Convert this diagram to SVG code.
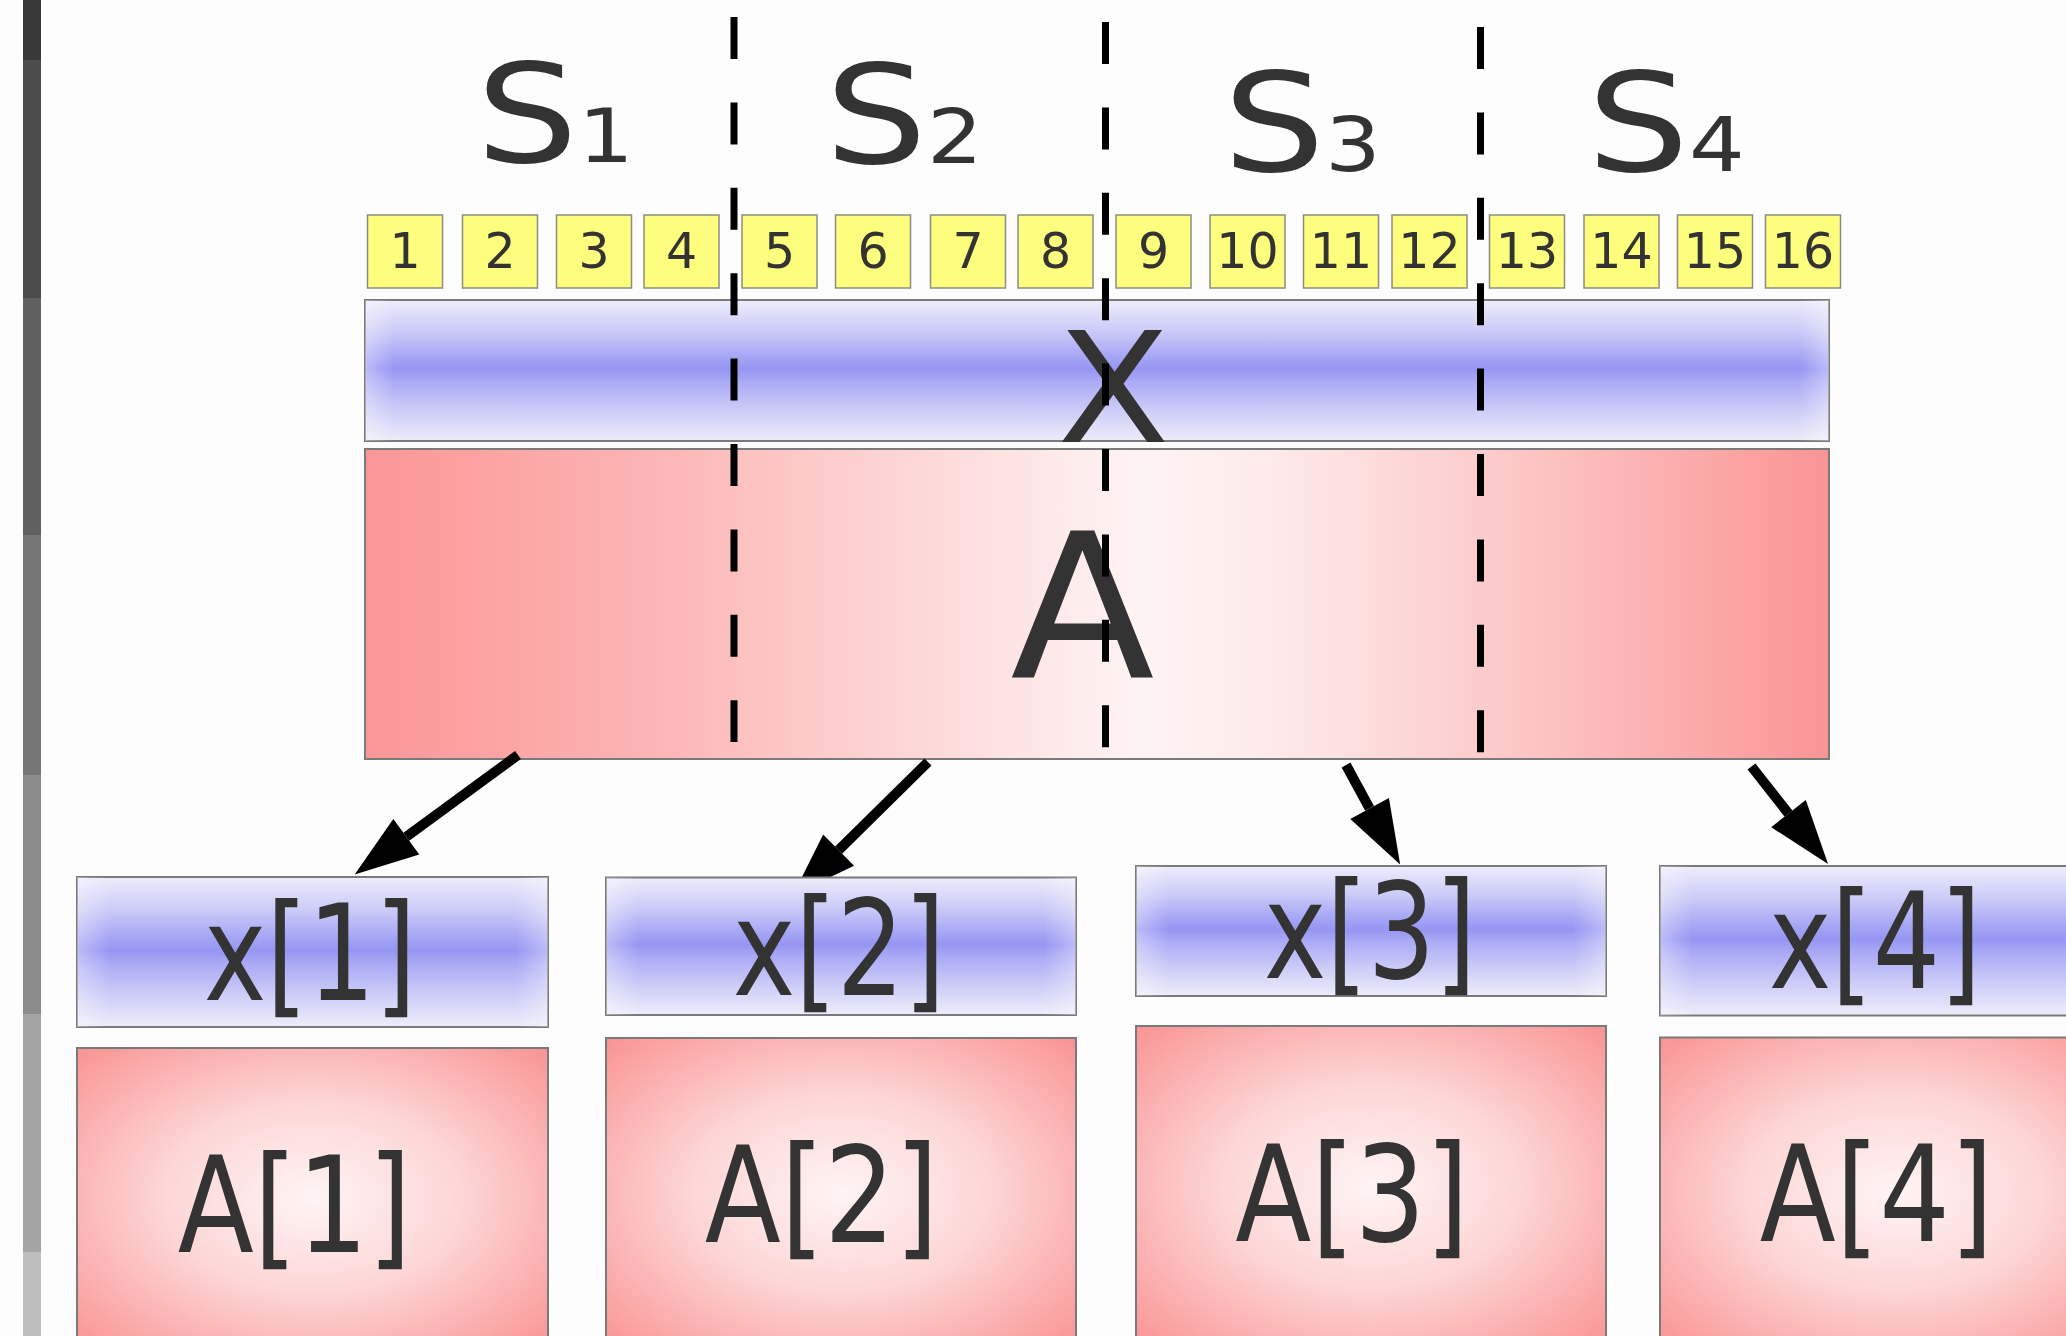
<svg xmlns="http://www.w3.org/2000/svg" width="2066" height="1336" viewBox="0 0 2066 1336">
  <defs>
    <!-- blue vector band: light edges, saturated middle stripe -->
    <linearGradient id="blueBand" x1="0" y1="0" x2="0" y2="1">
      <stop offset="0" stop-color="#ededfc"/>
      <stop offset="0.22" stop-color="#cbcbf8"/>
      <stop offset="0.42" stop-color="#a2a2f5"/>
      <stop offset="0.49" stop-color="#9696f3"/>
      <stop offset="0.58" stop-color="#aaaaf6"/>
      <stop offset="0.8" stop-color="#cfcff8"/>
      <stop offset="1" stop-color="#ededfb"/>
    </linearGradient>
    <!-- soft white fade at the left/right ends of the blue bands -->
    <linearGradient id="edgeNarrow" x1="0" y1="0" x2="1" y2="0">
      <stop offset="0" stop-color="#fff" stop-opacity="0.35"/>
      <stop offset="0.07" stop-color="#fff" stop-opacity="0"/>
      <stop offset="0.93" stop-color="#fff" stop-opacity="0"/>
      <stop offset="1" stop-color="#fff" stop-opacity="0.35"/>
    </linearGradient>
    <linearGradient id="edgeWide" x1="0" y1="0" x2="1" y2="0">
      <stop offset="0" stop-color="#fff" stop-opacity="0.35"/>
      <stop offset="0.02" stop-color="#fff" stop-opacity="0"/>
      <stop offset="0.98" stop-color="#fff" stop-opacity="0"/>
      <stop offset="1" stop-color="#fff" stop-opacity="0.35"/>
    </linearGradient>
    <!-- wide matrix: red at both ends, pale in the middle -->
    <linearGradient id="redWide" x1="0" y1="0" x2="1" y2="0">
      <stop offset="0" stop-color="#fb9696"/>
      <stop offset="0.18" stop-color="#fcb2b2"/>
      <stop offset="0.4" stop-color="#fedcdc"/>
      <stop offset="0.53" stop-color="#fff4f4"/>
      <stop offset="0.62" stop-color="#feeaea"/>
      <stop offset="0.8" stop-color="#fcc4c4"/>
      <stop offset="1" stop-color="#fb9494"/>
    </linearGradient>
    <!-- local matrices: pale centre, pink-red rim -->
    <radialGradient id="redBox" cx="0.5" cy="0.5" r="0.7">
      <stop offset="0" stop-color="#fff4f4"/>
      <stop offset="0.45" stop-color="#fdd6d6"/>
      <stop offset="1" stop-color="#fa9494"/>
    </radialGradient>
    <marker id="head" markerUnits="userSpaceOnUse" orient="auto" refX="0" refY="0" markerWidth="64" markerHeight="44" overflow="visible">
      <path d="M0,-22 L64,0 L0,22 Z" fill="#000"/>
    </marker>
  </defs>
  <style>
    .lbl { font-family: "DejaVu Sans", "Liberation Sans", sans-serif; fill: #333333; }
    .cell rect { fill: #fdfd7e; stroke: #8c8c80; stroke-width: 1.5; }
    .cell text { font-family: "DejaVu Sans", "Liberation Sans", sans-serif; fill: #333333; font-size: 49px; text-anchor: middle; }
    .vec { fill: url(#blueBand); stroke: #7a7a7a; stroke-width: 2; }
    .matW { fill: url(#redWide); stroke: #7a7a7a; stroke-width: 2; }
    .mat { fill: url(#redBox); stroke: #7a7a7a; stroke-width: 2; }
    .split { stroke: #000; stroke-width: 7; stroke-dasharray: 42 43.4; fill: none; }
    .arrow { stroke: #000; stroke-width: 10; fill: none; marker-end: url(#head); }
  </style>

  <rect x="0" y="0" width="2066" height="1336" fill="#fdfdfd"/>

  <!-- grey scale strip on the left -->
  <g id="strip">
    <rect x="23" y="0" width="18" height="60" fill="#3a3737"/>
    <rect x="23" y="60" width="18" height="238" fill="#4e4b4b"/>
    <rect x="23" y="298" width="18" height="237" fill="#615f5f"/>
    <rect x="23" y="535" width="18" height="240" fill="#777575"/>
    <rect x="23" y="775" width="18" height="239" fill="#8d8b8b"/>
    <rect x="23" y="1014" width="18" height="238" fill="#a5a4a4"/>
    <rect x="23" y="1252" width="18" height="84" fill="#bebebe"/>
  </g>

  <!-- set labels -->
  <g id="S1"><text class="lbl" transform="translate(476,162) scale(1.17,1)" font-size="137.5">S<tspan font-size="75">1</tspan></text></g>
  <g id="S2"><text class="lbl" transform="translate(825,163) scale(1.17,1)" font-size="137.5">S<tspan font-size="75">2</tspan></text></g>
  <g id="S3"><text class="lbl" transform="translate(1223,171) scale(1.17,1)" font-size="137.5">S<tspan font-size="75">3</tspan></text></g>
  <g id="S4"><text class="lbl" transform="translate(1587,171) scale(1.17,1)" font-size="137.5">S<tspan font-size="75">4</tspan></text></g>

  <!-- index cells 1..16 -->
  <g id="cell-1" class="cell"><rect x="367.5" y="215" width="75" height="73"/><text x="405" y="268">1</text></g>
  <g id="cell-2" class="cell"><rect x="462.5" y="215" width="75" height="73"/><text x="500" y="268">2</text></g>
  <g id="cell-3" class="cell"><rect x="556.5" y="215" width="75" height="73"/><text x="594" y="268">3</text></g>
  <g id="cell-4" class="cell"><rect x="644" y="215" width="75" height="73"/><text x="681.5" y="268">4</text></g>
  <g id="cell-5" class="cell"><rect x="742" y="215" width="75" height="73"/><text x="779.5" y="268">5</text></g>
  <g id="cell-6" class="cell"><rect x="835.5" y="215" width="75" height="73"/><text x="873" y="268">6</text></g>
  <g id="cell-7" class="cell"><rect x="930.5" y="215" width="75" height="73"/><text x="968" y="268">7</text></g>
  <g id="cell-8" class="cell"><rect x="1018" y="215" width="75" height="73"/><text x="1055.5" y="268">8</text></g>
  <g id="cell-9" class="cell"><rect x="1116" y="215" width="75" height="73"/><text x="1153.5" y="268">9</text></g>
  <g id="cell-10" class="cell"><rect x="1210" y="215" width="75" height="73"/><text x="1247.5" y="268">10</text></g>
  <g id="cell-11" class="cell"><rect x="1303.5" y="215" width="75" height="73"/><text x="1341" y="268">11</text></g>
  <g id="cell-12" class="cell"><rect x="1392" y="215" width="75" height="73"/><text x="1429.5" y="268">12</text></g>
  <g id="cell-13" class="cell"><rect x="1489.5" y="215" width="75" height="73"/><text x="1527" y="268">13</text></g>
  <g id="cell-14" class="cell"><rect x="1584" y="215" width="75" height="73"/><text x="1621.5" y="268">14</text></g>
  <g id="cell-15" class="cell"><rect x="1677.5" y="215" width="75" height="73"/><text x="1715" y="268">15</text></g>
  <g id="cell-16" class="cell"><rect x="1765.5" y="215" width="75" height="73"/><text x="1803" y="268">16</text></g>

  <!-- full vector X -->
  <g id="X">
    <rect class="vec" x="365" y="300" width="1464" height="141"/>
    <rect x="365" y="300" width="1464" height="141" fill="url(#edgeWide)"/>
    <text class="lbl" transform="translate(1113.5,442) scale(1.07,1)" font-size="154" text-anchor="middle">X</text>
  </g>

  <!-- full matrix A -->
  <g id="A">
    <rect class="matW" x="365" y="449" width="1464" height="310"/>
    <text class="lbl" transform="translate(1082.5,678) scale(1.05,1)" font-size="201" text-anchor="middle">A</text>
  </g>

  <!-- partition boundaries -->
  <g id="splits">
    <line class="split" x1="734" y1="17" x2="734" y2="742"/>
    <line class="split" x1="1105.5" y1="22" x2="1105.5" y2="748"/>
    <line class="split" x1="1480.5" y1="27" x2="1480.5" y2="753"/>
  </g>

  <!-- distribution arrows -->
  <g id="connectors">
    <line class="arrow" x1="518" y1="755" x2="406.3" y2="836.7"/>
    <line class="arrow" x1="928" y1="762" x2="838.6" y2="850.1"/>
    <line class="arrow" x1="1346" y1="765" x2="1369.6" y2="808.4"/>
    <line class="arrow" x1="1751.5" y1="766.5" x2="1788.5" y2="813.6"/>
  </g>

  <!-- local pieces -->
  <g id="x1">
    <rect class="vec" x="77" y="877" width="471" height="150"/>
    <rect x="77" y="877" width="471" height="150" fill="url(#edgeNarrow)"/>
    <text class="lbl" transform="translate(310,1000) scale(0.79,1)" font-size="134" text-anchor="middle">x[1]</text>
  </g>
  <g id="A1">
    <rect class="mat" x="77" y="1048" width="471" height="300"/>
    <text class="lbl" transform="translate(294.5,1252) scale(0.83,1)" font-size="134" text-anchor="middle">A[1]</text>
  </g>
  <g id="x2">
    <rect class="vec" x="606" y="877.5" width="470" height="137.5"/>
    <rect x="606" y="877.5" width="470" height="137.5" fill="url(#edgeNarrow)"/>
    <text class="lbl" transform="translate(839,995) scale(0.79,1)" font-size="134" text-anchor="middle">x[2]</text>
  </g>
  <g id="A2">
    <rect class="mat" x="606" y="1038" width="470" height="310"/>
    <text class="lbl" transform="translate(821.5,1242) scale(0.83,1)" font-size="134" text-anchor="middle">A[2]</text>
  </g>
  <g id="x3">
    <rect class="vec" x="1136" y="866" width="470" height="130"/>
    <rect x="1136" y="866" width="470" height="130" fill="url(#edgeNarrow)"/>
    <text class="lbl" transform="translate(1370,978) scale(0.79,1)" font-size="134" text-anchor="middle">x[3]</text>
  </g>
  <g id="A3">
    <rect class="mat" x="1136" y="1026" width="470" height="320"/>
    <text class="lbl" transform="translate(1352,1241) scale(0.83,1)" font-size="134" text-anchor="middle">A[3]</text>
  </g>
  <g id="x4">
    <rect class="vec" x="1660" y="866" width="470" height="149.5"/>
    <rect x="1660" y="866" width="470" height="149.5" fill="url(#edgeNarrow)"/>
    <text class="lbl" transform="translate(1875,988) scale(0.79,1)" font-size="134" text-anchor="middle">x[4]</text>
  </g>
  <g id="A4">
    <rect class="mat" x="1660" y="1037.5" width="470" height="310"/>
    <text class="lbl" transform="translate(1876.5,1241) scale(0.83,1)" font-size="134" text-anchor="middle">A[4]</text>
  </g>
</svg>
